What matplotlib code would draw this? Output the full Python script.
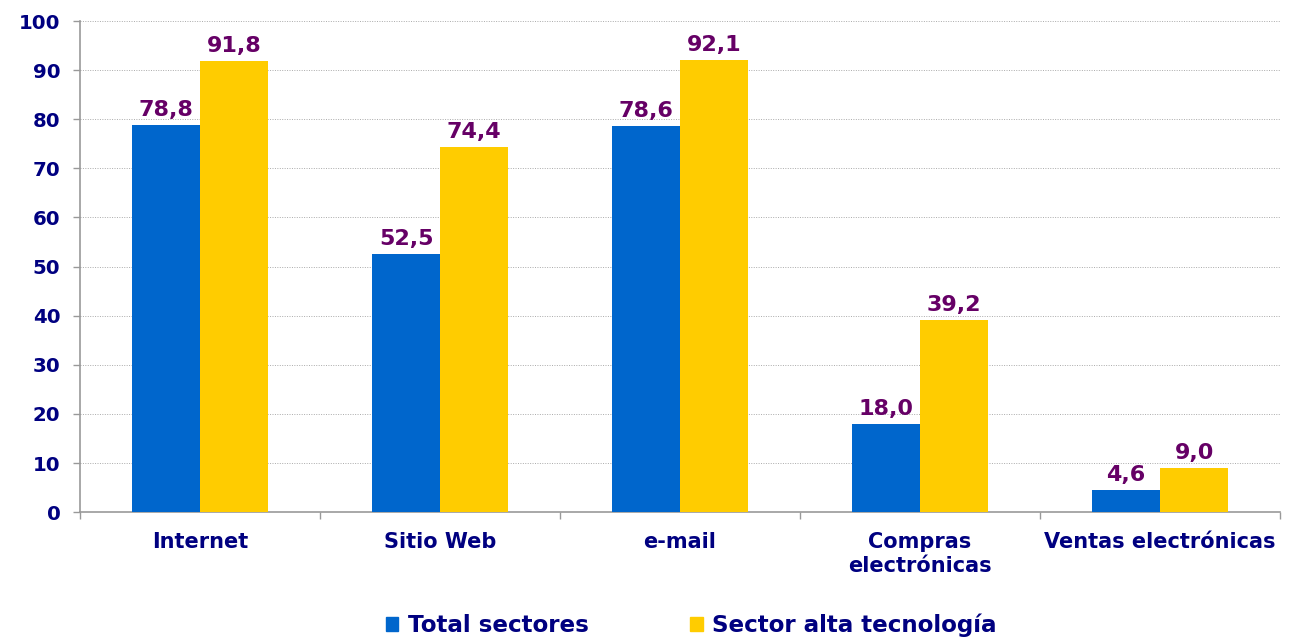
import numpy as np
import matplotlib.pyplot as plt
from matplotlib.patches import Patch

categories = ["Internet", "Sitio Web", "e-mail", "Compras\nelectrónicas", "Ventas electrónicas"]
total_sectores = [78.8, 52.5, 78.6, 18.0, 4.6]
alta_tecnologia = [91.8, 74.4, 92.1, 39.2, 9.0]
series_names = ["Total sectores", "Sector alta tecnología"]

blue = "#0066CC"
yellow = "#FFCC00"
navy = "#000080"
purple = "#660066"

plt.rcParams['font.family'] = ['DejaVu Sans']
plt.rcParams['font.weight'] = 'bold'

fig = plt.figure(figsize=(12.94, 6.37), dpi=100)
ax = fig.add_axes([0.0618, 0.196, 0.9275, 0.771])

x = np.arange(len(categories))
w = 0.283
b1 = ax.bar(x - w/2, total_sectores, w, color=blue, zorder=3)
b2 = ax.bar(x + w/2, alta_tecnologia, w, color=yellow, zorder=3)

for bars, vals in [(b1, total_sectores), (b2, alta_tecnologia)]:
    for rect, v in zip(bars, vals):
        ax.annotate(f"{v:.1f}".replace(".", ","),
                    (rect.get_x() + rect.get_width()/2, rect.get_height()),
                    xytext=(0, 3.5), textcoords="offset points",
                    ha="center", va="bottom", color=purple,
                    fontsize=16, fontweight="bold")

ax.set_xlim(-0.5, len(categories) - 0.5)
ax.set_ylim(0, 100)
ax.set_yticks(range(0, 101, 10))
ax.yaxis.grid(True, color="#AAAAAA", linestyle=(0, (1, 1.5)), linewidth=0.7, zorder=0)

# category labels centred, tick marks between groups
ax.set_xticks(x)
ax.set_xticklabels(categories, color=navy, fontsize=15, fontweight="bold", linespacing=1.25)
ax.tick_params(axis="x", length=0, pad=14)
ax.set_xticks(np.arange(-0.5, len(categories)), minor=True)
ax.tick_params(axis="x", which="minor", length=5, color="#999999", width=1)

ax.tick_params(axis="y", length=5, color="#999999", width=1, labelsize=14.2, labelcolor=navy, pad=9)
for lab in ax.get_yticklabels():
    lab.set_fontweight("bold")

for side in ["top", "right"]:
    ax.spines[side].set_visible(False)
for side in ["left", "bottom"]:
    ax.spines[side].set_color("#999999")
    ax.spines[side].set_linewidth(1.2)

handles = [Patch(color=blue), Patch(color=yellow)]
leg = fig.legend(handles, series_names, loc="center", bbox_to_anchor=(0.534, 0.018),
                 ncol=2, frameon=False, handlelength=0.55, handleheight=0.55,
                 handletextpad=0.4, columnspacing=4.4,
                 prop={"size": 16.6, "weight": "bold"})
for t in leg.get_texts():
    t.set_color(navy)

fig.savefig("out.png", dpi=100)
